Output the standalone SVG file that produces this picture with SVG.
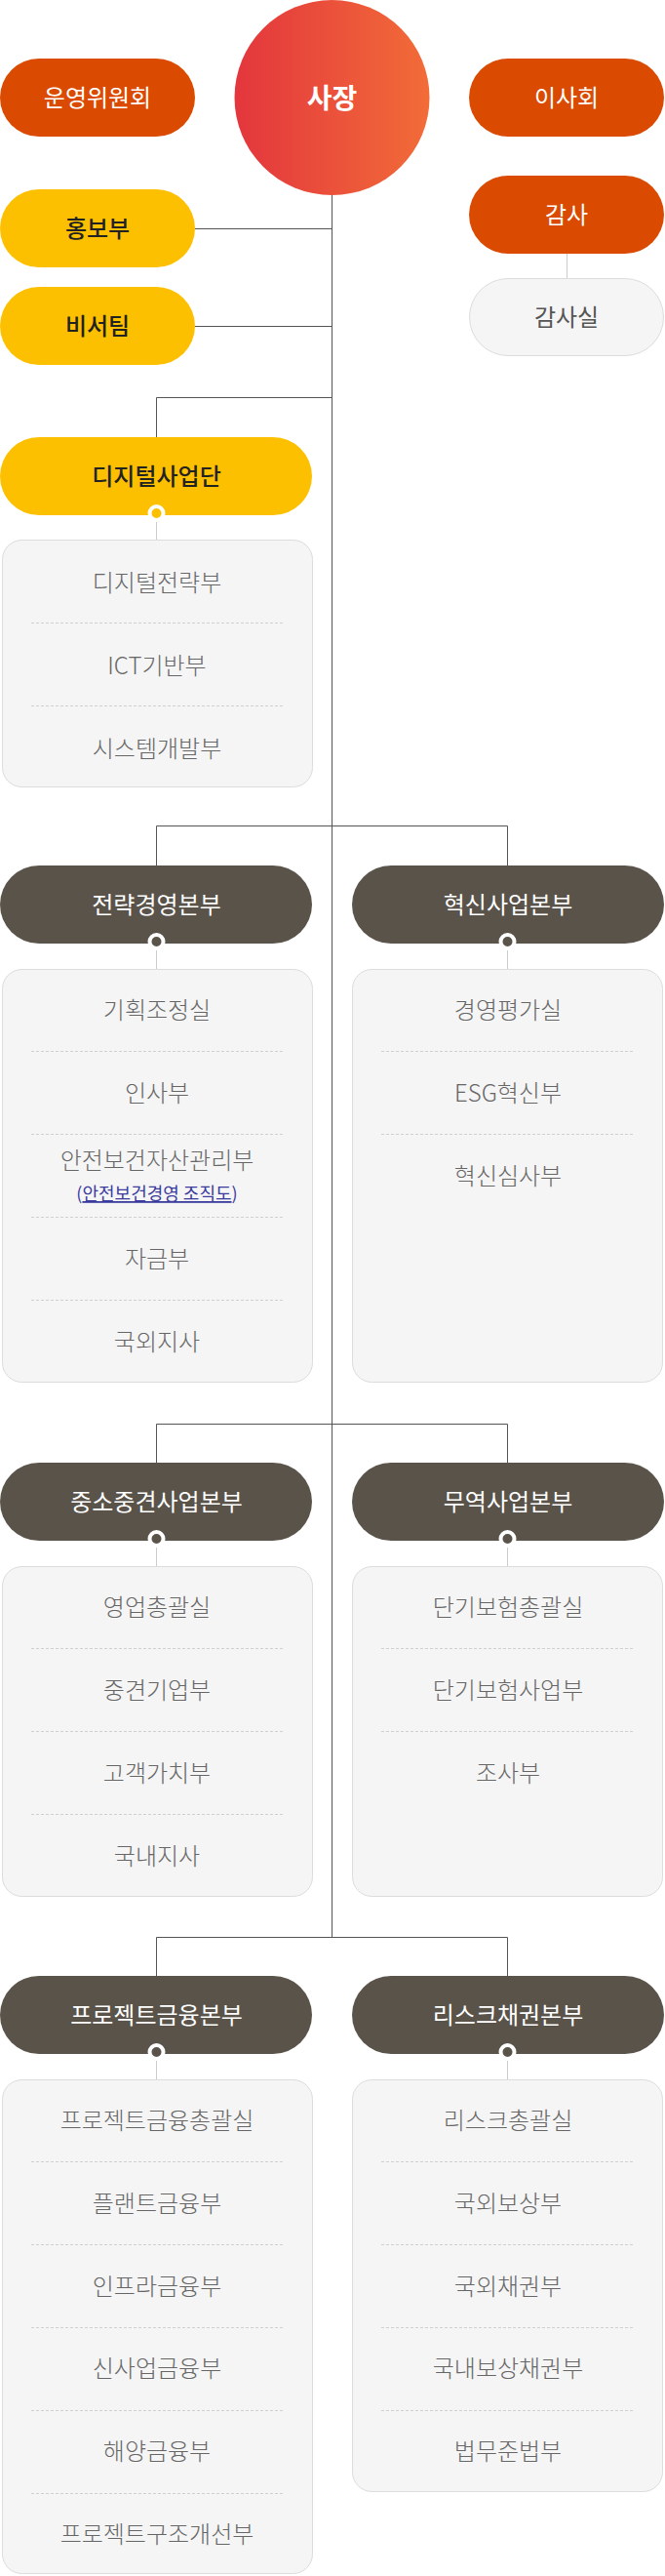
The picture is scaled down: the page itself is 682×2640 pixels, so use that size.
<svg xmlns="http://www.w3.org/2000/svg" width="682" height="2640" viewBox="0 0 682 2640">
<defs>
<linearGradient id="gCeo" x1="0" y1="0" x2="1" y2="0">
<stop offset="0" stop-color="#e3363d"/>
<stop offset="1" stop-color="#f26c38"/>
</linearGradient>
</defs>
<style>
text{font-family:"Noto Sans CJK KR","Noto Sans KR","Noto Sans",sans-serif;text-anchor:middle}
.orange{fill:#da4a00}
.yellow{fill:#fdc000}
.dark{fill:#5a534a}
.wt{fill:#ffffff;font-size:24px;font-weight:400}
.bt{fill:#222222;font-size:24px;font-weight:500}
.box{fill:#f5f5f5;stroke:#dcdcdc;stroke-width:1}
.it{fill:#666666;font-size:24px;font-weight:300}
.sep{stroke:#d0d0d0;stroke-width:1;stroke-dasharray:3 2}
.ln{stroke:#555555;stroke-width:1;fill:none}
.lt{stroke:#cccccc;stroke-width:1;fill:none}
.dotY{fill:#fdc000;stroke:#ffffff;stroke-width:4}
.dotD{fill:#5a534a;stroke:#ffffff;stroke-width:4}
.link{fill:#3b3b9e;font-size:18px;font-weight:400}
</style>

<g id="connectors">
<path class="ln" d="M340.5 199 V1985"/>
<path class="ln" d="M200 234.5 H340.5"/>
<path class="ln" d="M200 334.5 H340.5"/>
<path class="ln" d="M340.5 407.5 H160.5 V448"/>
<path class="ln" d="M160.5 887 V846.5 H520.5 V887"/>
<path class="ln" d="M160.5 1499 V1459.5 H520.5 V1499"/>
<path class="ln" d="M160.5 2025 V1985.5 H520.5 V2025"/>
<path class="lt" d="M581.5 260 V285"/>
<path class="lt" d="M160.5 533 V553"/>
<path class="lt" d="M160.5 972 V993"/>
<path class="lt" d="M520.5 972 V993"/>
<path class="lt" d="M160.5 1584 V1605"/>
<path class="lt" d="M520.5 1584 V1605"/>
<path class="lt" d="M160.5 2110 V2131"/>
<path class="lt" d="M520.5 2110 V2131"/>
</g>

<g id="ceo">
<circle cx="340.5" cy="100" r="100" fill="url(#gCeo)"/>
<text x="340.5" y="111" fill="#ffffff" font-size="28" font-weight="700">사장</text>
</g>

<g id="committee">
<rect class="orange" x="0" y="60" width="200" height="80" rx="40"/>
<text class="wt" x="100" y="109">운영위원회</text>
</g>

<g id="board">
<rect class="orange" x="481" y="60" width="200" height="80" rx="40"/>
<text class="wt" x="581" y="109">이사회</text>
</g>

<g id="audit">
<rect class="orange" x="481" y="180" width="200" height="80" rx="40"/>
<text class="wt" x="581" y="229">감사</text>
</g>

<g id="audit-office">
<rect x="481.5" y="285.5" width="199" height="79" rx="39.5" fill="#f5f5f5" stroke="#dcdcdc"/>
<text x="581" y="334" fill="#555555" font-size="24" font-weight="400">감사실</text>
</g>

<g id="pr">
<rect class="yellow" x="0" y="194" width="200" height="80" rx="40"/>
<text class="bt" x="100" y="243">홍보부</text>
</g>

<g id="secretary">
<rect class="yellow" x="0" y="294" width="200" height="80" rx="40"/>
<text class="bt" x="100" y="343">비서팀</text>
</g>

<g id="digital">
<rect class="yellow" x="0" y="448" width="320" height="80" rx="40"/>
<text class="bt" x="160.5" y="497">디지털사업단</text>
<circle class="dotY" cx="160.5" cy="526" r="7"/>
<rect class="box" x="2.5" y="553.5" width="318" height="253" rx="20"/>
<text class="it" x="161" y="606">디지털전략부</text>
<line class="sep" x1="32" y1="638.5" x2="290" y2="638.5"/>
<text class="it" x="161" y="691">ICT기반부</text>
<line class="sep" x1="32" y1="723.5" x2="290" y2="723.5"/>
<text class="it" x="161" y="776">시스템개발부</text>
</g>

<g id="strategy">
<rect class="dark" x="0" y="887" width="320" height="80" rx="40"/>
<text class="wt" x="160.5" y="936">전략경영본부</text>
<circle class="dotD" cx="160.5" cy="965" r="7"/>
<rect class="box" x="2.5" y="993.5" width="318" height="423" rx="20"/>
<text class="it" x="161" y="1044">기획조정실</text>
<line class="sep" x1="32" y1="1077.5" x2="290" y2="1077.5"/>
<text class="it" x="161" y="1129">인사부</text>
<line class="sep" x1="32" y1="1162.5" x2="290" y2="1162.5"/>
<text class="it" x="161" y="1198">안전보건자산관리부</text>
<text class="link" x="161" y="1230">(<tspan text-decoration="underline">안전보건경영 조직도</tspan>)</text>
<line class="sep" x1="32" y1="1247.5" x2="290" y2="1247.5"/>
<text class="it" x="161" y="1299">자금부</text>
<line class="sep" x1="32" y1="1332.5" x2="290" y2="1332.5"/>
<text class="it" x="161" y="1384">국외지사</text>
</g>

<g id="innovation">
<rect class="dark" x="361" y="887" width="320" height="80" rx="40"/>
<text class="wt" x="521" y="936">혁신사업본부</text>
<circle class="dotD" cx="520.5" cy="965" r="7"/>
<rect class="box" x="361.5" y="993.5" width="318" height="423" rx="20"/>
<text class="it" x="521" y="1044">경영평가실</text>
<line class="sep" x1="391" y1="1077.5" x2="649" y2="1077.5"/>
<text class="it" x="521" y="1129">ESG혁신부</text>
<line class="sep" x1="391" y1="1162.5" x2="649" y2="1162.5"/>
<text class="it" x="521" y="1214">혁신심사부</text>
</g>

<g id="sme">
<rect class="dark" x="0" y="1499" width="320" height="80" rx="40"/>
<text class="wt" x="160.5" y="1548">중소중견사업본부</text>
<circle class="dotD" cx="160.5" cy="1577" r="7"/>
<rect class="box" x="2.5" y="1605.5" width="318" height="338" rx="20"/>
<text class="it" x="161" y="1656">영업총괄실</text>
<line class="sep" x1="32" y1="1689.5" x2="290" y2="1689.5"/>
<text class="it" x="161" y="1741">중견기업부</text>
<line class="sep" x1="32" y1="1774.5" x2="290" y2="1774.5"/>
<text class="it" x="161" y="1826">고객가치부</text>
<line class="sep" x1="32" y1="1859.5" x2="290" y2="1859.5"/>
<text class="it" x="161" y="1911">국내지사</text>
</g>

<g id="trade">
<rect class="dark" x="361" y="1499" width="320" height="80" rx="40"/>
<text class="wt" x="521" y="1548">무역사업본부</text>
<circle class="dotD" cx="520.5" cy="1577" r="7"/>
<rect class="box" x="361.5" y="1605.5" width="318" height="338" rx="20"/>
<text class="it" x="521" y="1656">단기보험총괄실</text>
<line class="sep" x1="391" y1="1689.5" x2="649" y2="1689.5"/>
<text class="it" x="521" y="1741">단기보험사업부</text>
<line class="sep" x1="391" y1="1774.5" x2="649" y2="1774.5"/>
<text class="it" x="521" y="1826">조사부</text>
</g>

<g id="project">
<rect class="dark" x="0" y="2025" width="320" height="80" rx="40"/>
<text class="wt" x="160.5" y="2074">프로젝트금융본부</text>
<circle class="dotD" cx="160.5" cy="2103" r="7"/>
<rect class="box" x="2.5" y="2131.5" width="318" height="506" rx="20"/>
<text class="it" x="161" y="2182">프로젝트금융총괄실</text>
<line class="sep" x1="32" y1="2215.5" x2="290" y2="2215.5"/>
<text class="it" x="161" y="2267">플랜트금융부</text>
<line class="sep" x1="32" y1="2300.5" x2="290" y2="2300.5"/>
<text class="it" x="161" y="2352">인프라금융부</text>
<line class="sep" x1="32" y1="2385.5" x2="290" y2="2385.5"/>
<text class="it" x="161" y="2436">신사업금융부</text>
<line class="sep" x1="32" y1="2470.5" x2="290" y2="2470.5"/>
<text class="it" x="161" y="2521">해양금융부</text>
<line class="sep" x1="32" y1="2555.5" x2="290" y2="2555.5"/>
<text class="it" x="161" y="2606">프로젝트구조개선부</text>
</g>

<g id="risk">
<rect class="dark" x="361" y="2025" width="320" height="80" rx="40"/>
<text class="wt" x="521" y="2074">리스크채권본부</text>
<circle class="dotD" cx="520.5" cy="2103" r="7"/>
<rect class="box" x="361.5" y="2131.5" width="318" height="422" rx="20"/>
<text class="it" x="521" y="2182">리스크총괄실</text>
<line class="sep" x1="391" y1="2215.5" x2="649" y2="2215.5"/>
<text class="it" x="521" y="2267">국외보상부</text>
<line class="sep" x1="391" y1="2300.5" x2="649" y2="2300.5"/>
<text class="it" x="521" y="2352">국외채권부</text>
<line class="sep" x1="391" y1="2385.5" x2="649" y2="2385.5"/>
<text class="it" x="521" y="2436">국내보상채권부</text>
<line class="sep" x1="391" y1="2470.5" x2="649" y2="2470.5"/>
<text class="it" x="521" y="2521">법무준법부</text>
</g>
</svg>
